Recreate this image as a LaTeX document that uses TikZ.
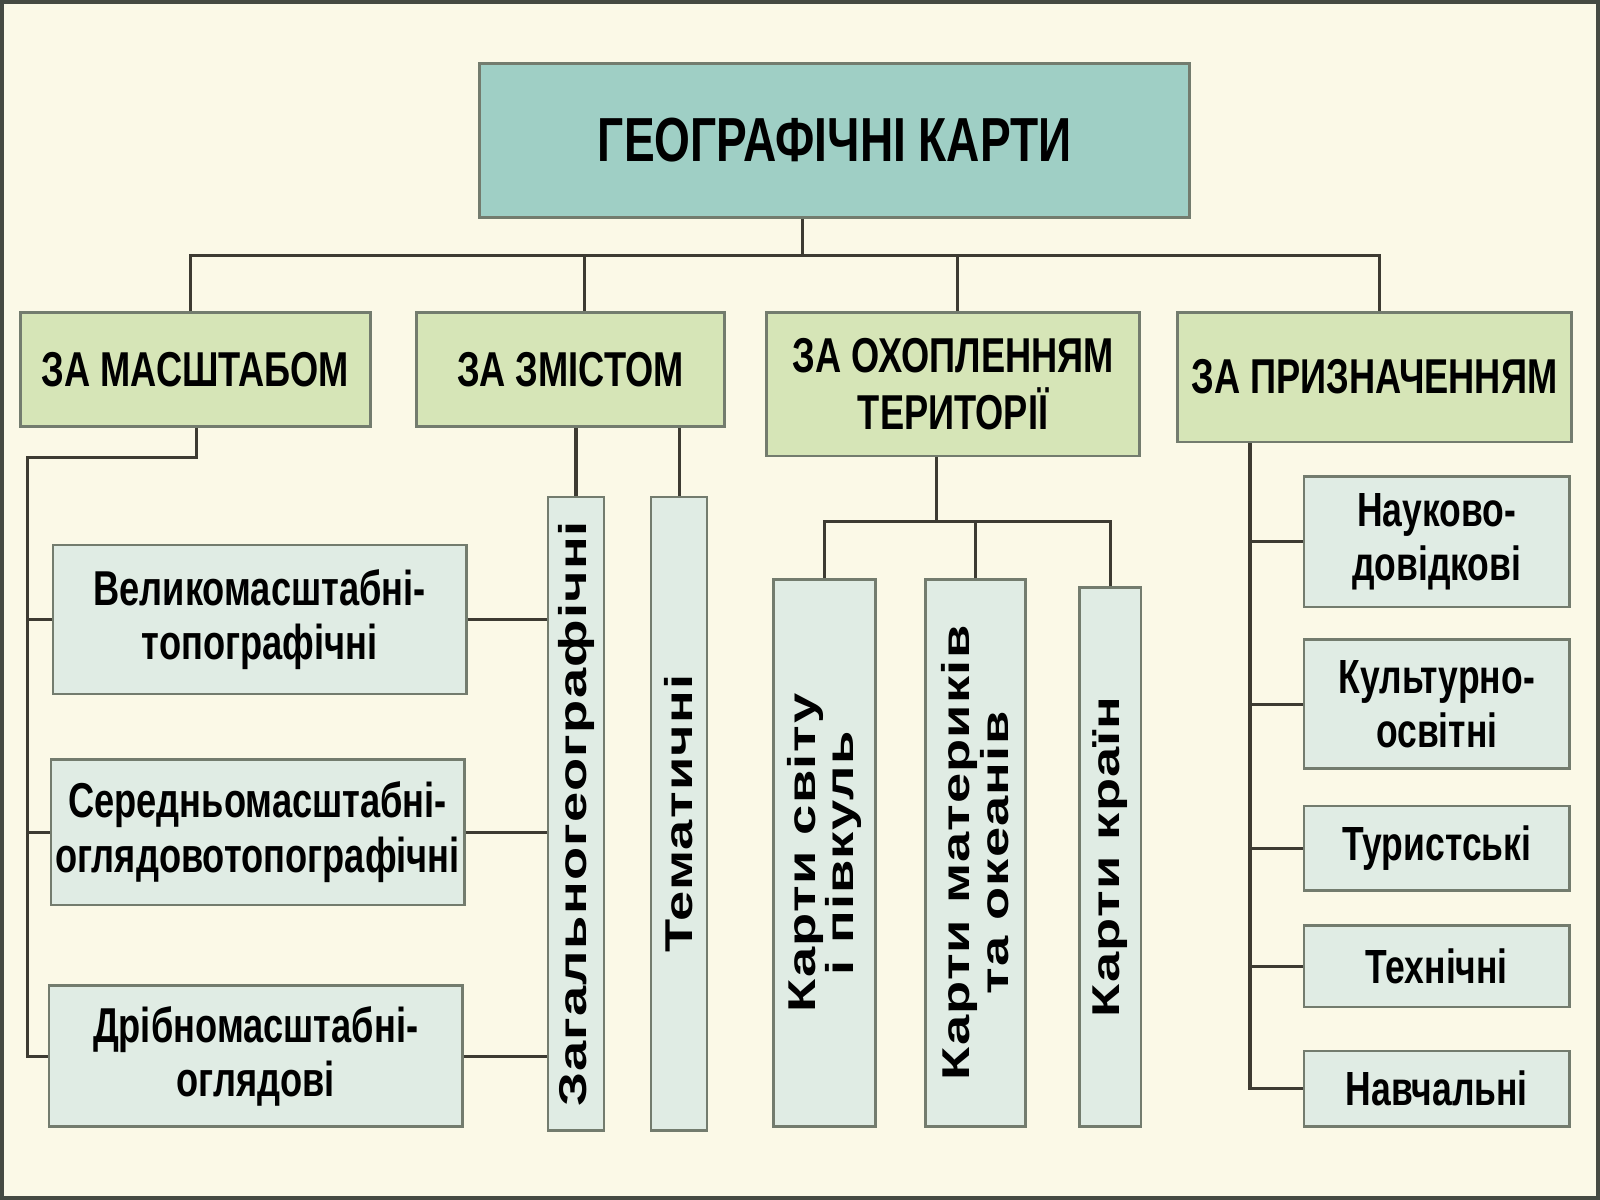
\documentclass[tikz,border=0pt]{standalone}
\usepackage{fontspec}
\setmainfont{Liberation Sans}
\newfontfamily\condf[FakeStretch=0.74]{Liberation Sans}
\newfontfamily\widef[FakeStretch=1.4,LetterSpace=3]{Liberation Sans}
\definecolor{bgc}{HTML}{FBF9E7}
\definecolor{topc}{HTML}{9FCFC5}
\definecolor{midc}{HTML}{D6E5B7}
\definecolor{lowc}{HTML}{E0ECE4}
\definecolor{edgec}{HTML}{737C6E}
\definecolor{linec}{HTML}{3D3B32}
\begin{document}
\begin{tikzpicture}[x=0.5pt,y=-0.5pt,
  box/.style={draw=edgec,line width=1.3pt,rectangle,inner sep=0pt,align=center,text=black},
  topbox/.style={box,fill=topc,font=\condf\bfseries\fontsize{30.5}{34}\selectfont},
  midbox/.style={box,fill=midc,font=\condf\bfseries\fontsize{24}{27.5}\selectfont},
  lowbox/.style={box,fill=lowc,font=\condf\bfseries\fontsize{24}{26.5}\selectfont},
  rbox/.style={box,fill=lowc,font=\condf\bfseries\fontsize{23.5}{26.5}\selectfont},
  vbox/.style={box,fill=lowc},
  vtext/.style={rotate=90,align=center,inner sep=0pt,font=\widef\bfseries\fontsize{19}{19}\selectfont},
  conn/.style={draw=linec,line width=1.5pt}]
\fill[bgc] (0,0) rectangle (1568,1176);
\useasboundingbox (0,0) rectangle (1568,1176);
\draw[edgec!60!black,line width=2.5pt] (1,1) rectangle (1567,1175);

% level 1
\node[topbox,minimum width=348pt,minimum height=75.5pt] (top) at (818,137.5) {ГЕОГРАФІЧНІ КАРТИ};
% level 2
\node[midbox,minimum width=171.5pt,minimum height=56pt] (m) at (191.5,362) {ЗА МАСШТАБОМ};
\node[midbox,minimum width=151pt,minimum height=56pt] (z) at (559,362) {ЗА ЗМІСТОМ};
\node[midbox,minimum width=183pt,minimum height=70.5pt] (o) at (934,376.5) {ЗА ОХОПЛЕННЯМ\\ТЕРИТОРІЇ};
\node[midbox,minimum width=193pt,minimum height=63.5pt] (p) at (1347,369.5) {ЗА ПРИЗНАЧЕННЯМ};
% left column
\node[lowbox,minimum width=202.5pt,minimum height=73pt] (v1) at (254.5,607) {Великомасштабні-\\топографічні};
\node[lowbox,minimum width=202.5pt,minimum height=71.5pt] (v2) at (252.5,815.5) {Середньомасштабні-\\оглядовотопографічні};
\node[lowbox,minimum width=202.5pt,minimum height=69pt] (v3) at (250.5,1035) {Дрібномасштабні-\\оглядові};
% vertical boxes
\node[vbox,minimum width=27.5pt,minimum height=310.5pt] (zg) at (564.5,797.5) {};
\node[vtext] at (zg.center) {Загальногеографічні};
\node[vbox,minimum width=27.5pt,minimum height=310.5pt] (tm) at (665.5,797.5) {};
\node[vtext] at (tm.center) {Тематичні};
\node[vbox,minimum width=50pt,minimum height=268pt] (ks) at (808,836) {};
\node[vtext] at (ks.center) {Карти світу\\і півкуль};
\node[vbox,minimum width=49pt,minimum height=268pt] (km) at (956,836) {};
\node[vtext] at (km.center) {Карти материків\\та океанів};
\node[vbox,minimum width=30pt,minimum height=264pt] (kk) at (1088,840) {};
\node[vtext] at (kk.center) {Карти країн};
% right column
\node[rbox,minimum width=130pt,minimum height=64pt] (r1) at (1408,531) {Науково-\\довідкові};
\node[rbox,minimum width=130pt,minimum height=63pt] (r2) at (1408,690) {Культурно-\\освітні};
\node[rbox,minimum width=130pt,minimum height=41.5pt] (r3) at (1408,831.5) {Туристські};
\node[rbox,minimum width=130pt,minimum height=40pt] (r4) at (1408,947) {Технічні};
\node[rbox,minimum width=130pt,minimum height=37pt] (r5) at (1408,1067) {Навчальні};

% connectors level 1 -> 2
\coordinate (b0) at (786,250);
\coordinate (b1) at (187,250);
\coordinate (b2) at (573,250);
\coordinate (b3) at (938,250);
\coordinate (b4) at (1352,250);
\draw[conn] (b0 |- top.south) -- (b0);
\draw[conn] (b1 |- m.north) -- (b1) -- (b4) -- (b4 |- p.north);
\draw[conn] (b2) -- (b2 |- z.north);
\draw[conn] (b3) -- (b3 |- o.north);

% left
\coordinate (lm) at (193,448);
\coordinate (lx) at (27,448);
\draw[conn] (lm |- m.south) -- (lm) -- (lx) -- (lx |- v3.west) -- (v3.west);
\draw[conn] (lx |- v1.west) -- (v1.west);
\draw[conn] (lx |- v2.west) -- (v2.west);
\draw[conn] (v1.east) -- (v1.east -| zg.west);
\draw[conn] (v2.east) -- (v2.east -| zg.west);
\draw[conn] (v3.east) -- (v3.east -| zg.west);

% content
\draw[conn] (zg.north) -- (zg.north |- z.south);
\draw[conn] (tm.north) -- (tm.north |- z.south);

% territory
\coordinate (j) at (918,511);
\draw[conn] (j |- o.south) -- (j);
\draw[conn] (ks.north) -- (ks.north |- j) -- (kk.north |- j) -- (kk.north);
\draw[conn] (km.north) -- (km.north |- j);

% purpose
\coordinate (rr) at (1225,500);
\draw[conn] (rr |- p.south) -- (rr |- r5.west) -- (r5.west);
\draw[conn] (rr |- r1.west) -- (r1.west);
\draw[conn] (rr |- r2.west) -- (r2.west);
\draw[conn] (rr |- r3.west) -- (r3.west);
\draw[conn] (rr |- r4.west) -- (r4.west);
\end{tikzpicture}
\end{document}
